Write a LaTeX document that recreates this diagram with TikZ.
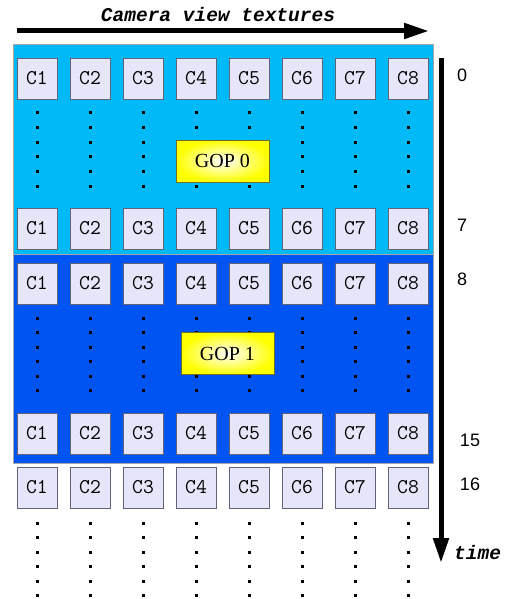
\documentclass[tikz,border=0pt]{standalone}
\usepackage{fontspec}
\setmainfont{Liberation Serif}
\newfontfamily\monofont{Liberation Mono}
\newfontfamily\numfont{Liberation Sans}
\usetikzlibrary{arrows.meta}
\definecolor{gopa}{RGB}{0,186,247}
\definecolor{gopb}{RGB}{0,84,242}
\definecolor{cambox}{RGB}{230,230,250}
\definecolor{camedge}{RGB}{100,100,120}
\definecolor{gopedge}{RGB}{110,110,40}
\tikzset{
  cam/.style={draw=camedge, fill=cambox, line width=0.9pt, minimum width=40pt, minimum height=41pt, inner sep=0pt, font=\ttfamily\fontsize{21}{21}\selectfont},
  goplabel/.style={draw=gopedge, line width=0.9pt, inner color=white, outer color=yellow, minimum width=93pt, minimum height=42pt, inner sep=0pt, font=\fontsize{20}{20}\selectfont},
  gopband/.style={draw=gray!70, line width=0.8pt},
  tlabel/.style={font=\numfont\fontsize{18}{18}\selectfont, inner sep=0pt},
  axislabel/.style={font=\monofont\bfseries\itshape\fontsize{19.5}{19.5}\selectfont, inner sep=0pt},
  bigarrow/.style={line width=5pt, -{Triangle[length=25pt,width=15pt]}},
  dot/.style={fill=black}
}
\begin{document}
\begin{tikzpicture}[x=1pt,y=-1pt]
\useasboundingbox (0,0) rectangle (510,599);
% bands
\path[gopband, fill=gopa] (13,44) rectangle (433,254);
\path[gopband, fill=gopb] (13,254) rectangle (433,463);
% camera boxes
\foreach \r/\yc in {0/78.5, 7/228.5, 8/283.5, 15/433.5, 16/487.5}{
  \foreach \k in {1,...,8}{
    \node[cam] (c-\r-\k) at ({37+53*(\k-1)}, \yc) {C\k};
  }
}
% dots
\foreach \k in {1,...,8}{
  \foreach \yy in {113,127.5,142,156.5,171,186, 318,332.5,347,361.5,376,390, 523,537.5,552,566.5,581,595}{
    \fill[dot] ({37+53*(\k-1)-1.5},{\yy-1.5}) rectangle ++(3,3);
  }
}
% GOP labels
\node[goplabel] (gop0) at (222.5,161) {GOP 0};
\node[goplabel] (gop1) at (227.5,353.5) {GOP 1};
% axes
\coordinate (hs) at (17,31);
\coordinate (he) at (429,31);
\draw[bigarrow] (hs) -- (he);
\node[axislabel] (camtitle) at (218,15) {Camera view textures};
\coordinate (vs) at (441,58);
\coordinate (ve) at (441,563);
\draw[bigarrow] (vs) -- (ve);
\node[axislabel, anchor=west] (timelabel) at (454,553) {time};
% time labels
\node[tlabel] (t0) at (462,75) {0};
\node[tlabel] (t7) at (462,225) {7};
\node[tlabel] (t8) at (462,279) {8};
\node[tlabel] (t15) at (470,440) {15};
\node[tlabel] (t16) at (470,484) {16};
\end{tikzpicture}
\end{document}
